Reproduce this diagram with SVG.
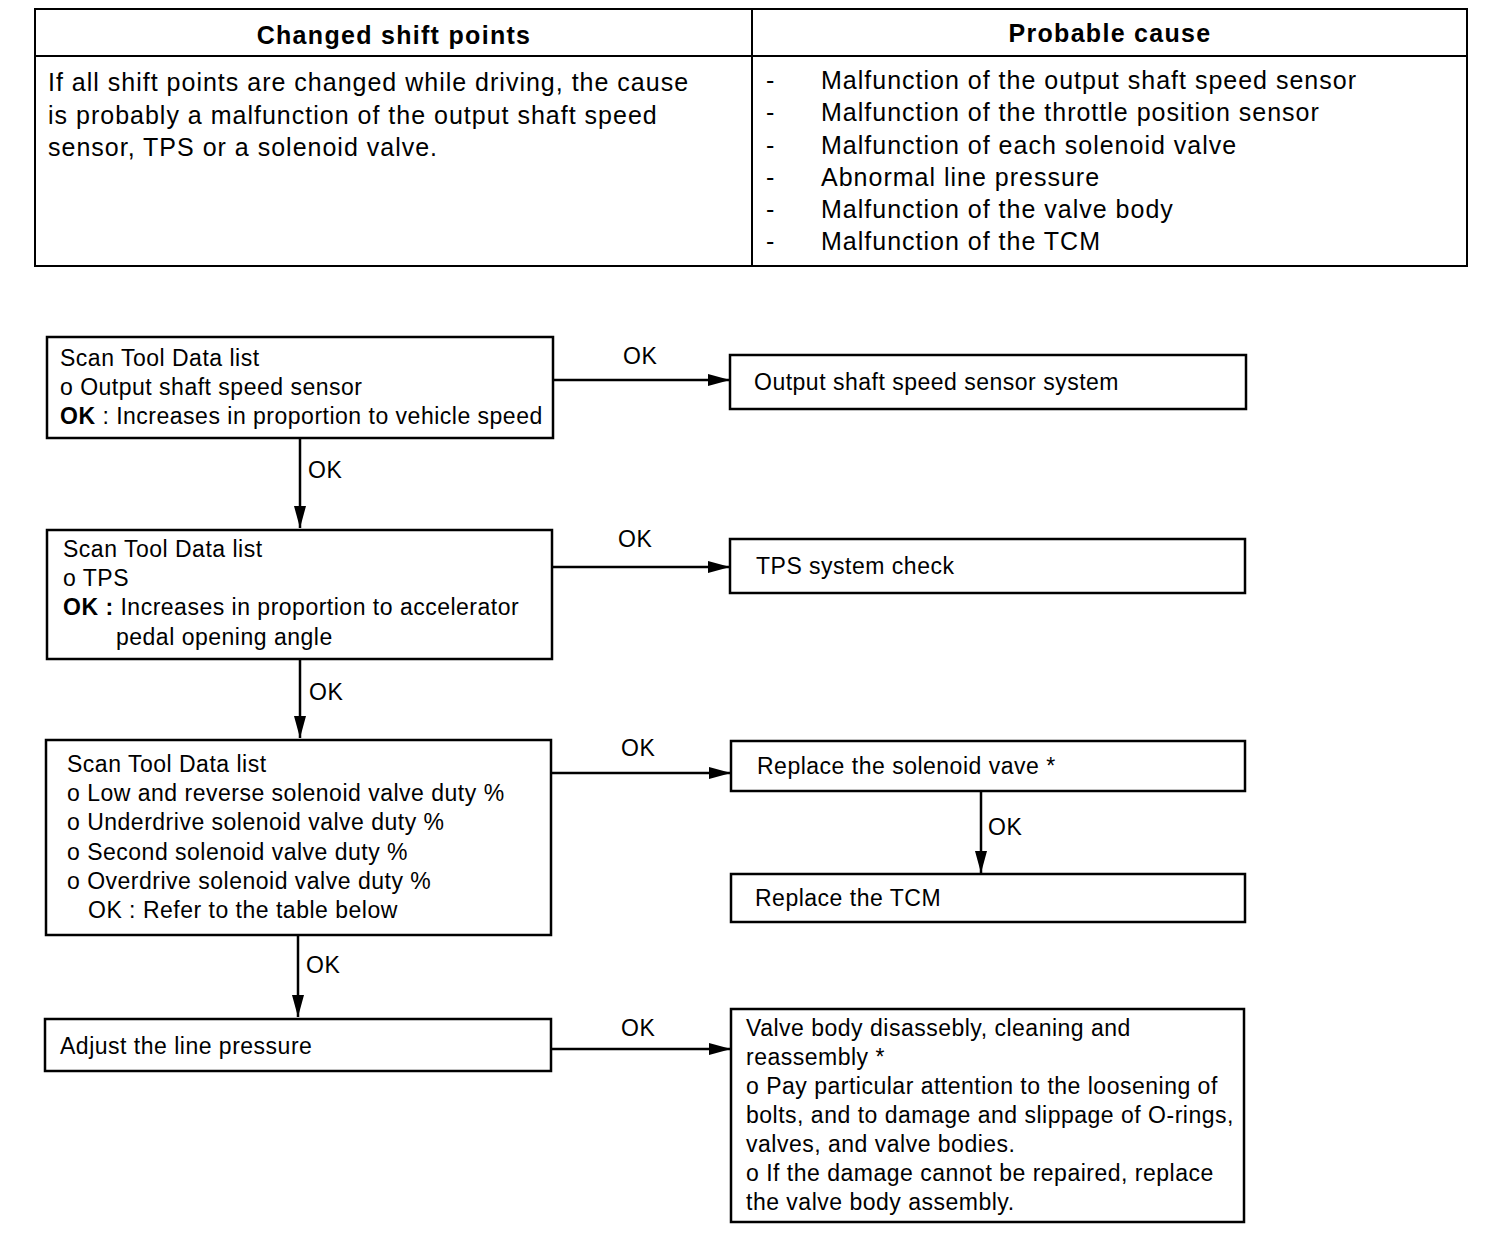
<svg xmlns="http://www.w3.org/2000/svg" width="1504" height="1242" viewBox="0 0 1504 1242">
<style>
text{font-family:"Liberation Sans",Arial,sans-serif;fill:#000}
.t{font-size:25px;letter-spacing:1px}
.h{font-size:25px;font-weight:bold;letter-spacing:1.3px}
.f{font-size:23px;letter-spacing:0.5px}
.b{fill:#fff;stroke:#000;stroke-width:2.5}
.tl{stroke:#000;stroke-width:2;fill:none}
.c{stroke:#000;stroke-width:2.5;fill:none}
</style>
<defs>
<marker id="ah" viewBox="0 0 22 12" refX="22" refY="6" markerWidth="22" markerHeight="12" markerUnits="userSpaceOnUse" orient="auto">
<path d="M0,0 L22,6 L0,12 z" fill="#000"/>
</marker>
</defs>
<rect width="1504" height="1242" fill="#fff"/>
<g id="table">
<rect x="35" y="9" width="1432" height="257" class="tl"/>
<line x1="35" y1="56" x2="1467" y2="56" class="tl"/>
<line x1="752" y1="9" x2="752" y2="266" class="tl"/>
<text x="394" y="44" class="h" text-anchor="middle">Changed shift points</text>
<text x="1110" y="42" class="h" text-anchor="middle">Probable cause</text>
<text class="t" x="48" y="91">If all shift points are changed while driving, the cause</text>
<text class="t" x="48" y="124">is probably a malfunction of the output shaft speed</text>
<text class="t" x="48" y="156">sensor, TPS or a solenoid valve.</text>
<g class="t">
<text x="766" y="89">-</text><text x="821" y="89">Malfunction of the output shaft speed sensor</text>
<text x="766" y="121">-</text><text x="821" y="121">Malfunction of the throttle position sensor</text>
<text x="766" y="154">-</text><text x="821" y="154">Malfunction of each solenoid valve</text>
<text x="766" y="186">-</text><text x="821" y="186">Abnormal line pressure</text>
<text x="766" y="218">-</text><text x="821" y="218">Malfunction of the valve body</text>
<text x="766" y="250">-</text><text x="821" y="250">Malfunction of the TCM</text>
</g>
</g>
<g id="n1">
<rect x="47" y="337" width="506" height="101" class="b"/>
<text class="f" x="60" y="366">Scan Tool Data list</text>
<text class="f" x="60" y="395">o Output shaft speed sensor</text>
<text class="f" x="60" y="424"><tspan font-weight="bold">OK</tspan> : Increases in proportion to vehicle speed</text>
</g>
<g id="r1">
<rect x="730" y="355" width="516" height="54" class="b"/>
<text class="f" x="754" y="390">Output shaft speed sensor system</text>
</g>
<g id="n2">
<rect x="47" y="530" width="505" height="129" class="b"/>
<text class="f" x="63" y="557">Scan Tool Data list</text>
<text class="f" x="63" y="586">o TPS</text>
<text class="f" x="63" y="615"><tspan font-weight="bold">OK :</tspan> Increases in proportion to accelerator</text>
<text class="f" x="116" y="645">pedal opening angle</text>
</g>
<g id="r2">
<rect x="730" y="539" width="515" height="54" class="b"/>
<text class="f" x="756" y="574">TPS system check</text>
</g>
<g id="n3">
<rect x="46" y="740" width="505" height="195" class="b"/>
<text class="f" x="67" y="772">Scan Tool Data list</text>
<text class="f" x="67" y="801">o Low and reverse solenoid valve duty %</text>
<text class="f" x="67" y="830">o Underdrive solenoid valve duty %</text>
<text class="f" x="67" y="860">o Second solenoid valve duty %</text>
<text class="f" x="67" y="889">o Overdrive solenoid valve duty %</text>
<text class="f" x="88" y="918">OK : Refer to the table below</text>
</g>
<g id="r3">
<rect x="731" y="741" width="514" height="50" class="b"/>
<text class="f" x="757" y="774">Replace the solenoid vave *</text>
</g>
<g id="r4">
<rect x="731" y="874" width="514" height="48" class="b"/>
<text class="f" x="755" y="906">Replace the TCM</text>
</g>
<g id="n4">
<rect x="45" y="1019" width="506" height="52" class="b"/>
<text class="f" x="60" y="1054">Adjust the line pressure</text>
</g>
<g id="r5">
<rect x="731" y="1009" width="513" height="213" class="b"/>
<text class="f" x="746" y="1036">Valve body disassebly, cleaning and</text>
<text class="f" x="746" y="1065">reassembly *</text>
<text class="f" x="746" y="1094">o Pay particular attention to the loosening of</text>
<text class="f" x="746" y="1123">bolts, and to damage and slippage of O-rings,</text>
<text class="f" x="746" y="1152">valves, and valve bodies.</text>
<text class="f" x="746" y="1181">o If the damage cannot be repaired, replace</text>
<text class="f" x="746" y="1210">the valve body assembly.</text>
</g>
<g id="connectors">
<line x1="553" y1="380" x2="730" y2="380" class="c" marker-end="url(#ah)"/>
<line x1="300" y1="438" x2="300" y2="528" class="c" marker-end="url(#ah)"/>
<line x1="552" y1="567" x2="730" y2="567" class="c" marker-end="url(#ah)"/>
<line x1="300" y1="659" x2="300" y2="738" class="c" marker-end="url(#ah)"/>
<line x1="551" y1="773" x2="731" y2="773" class="c" marker-end="url(#ah)"/>
<line x1="981" y1="791" x2="981" y2="873" class="c" marker-end="url(#ah)"/>
<line x1="298" y1="935" x2="298" y2="1017" class="c" marker-end="url(#ah)"/>
<line x1="551" y1="1049" x2="731" y2="1049" class="c" marker-end="url(#ah)"/>
<g class="f">
<text x="623" y="364">OK</text>
<text x="308" y="478">OK</text>
<text x="618" y="547">OK</text>
<text x="309" y="700">OK</text>
<text x="621" y="756">OK</text>
<text x="988" y="835">OK</text>
<text x="306" y="973">OK</text>
<text x="621" y="1036">OK</text>
</g>
</g>
</svg>
